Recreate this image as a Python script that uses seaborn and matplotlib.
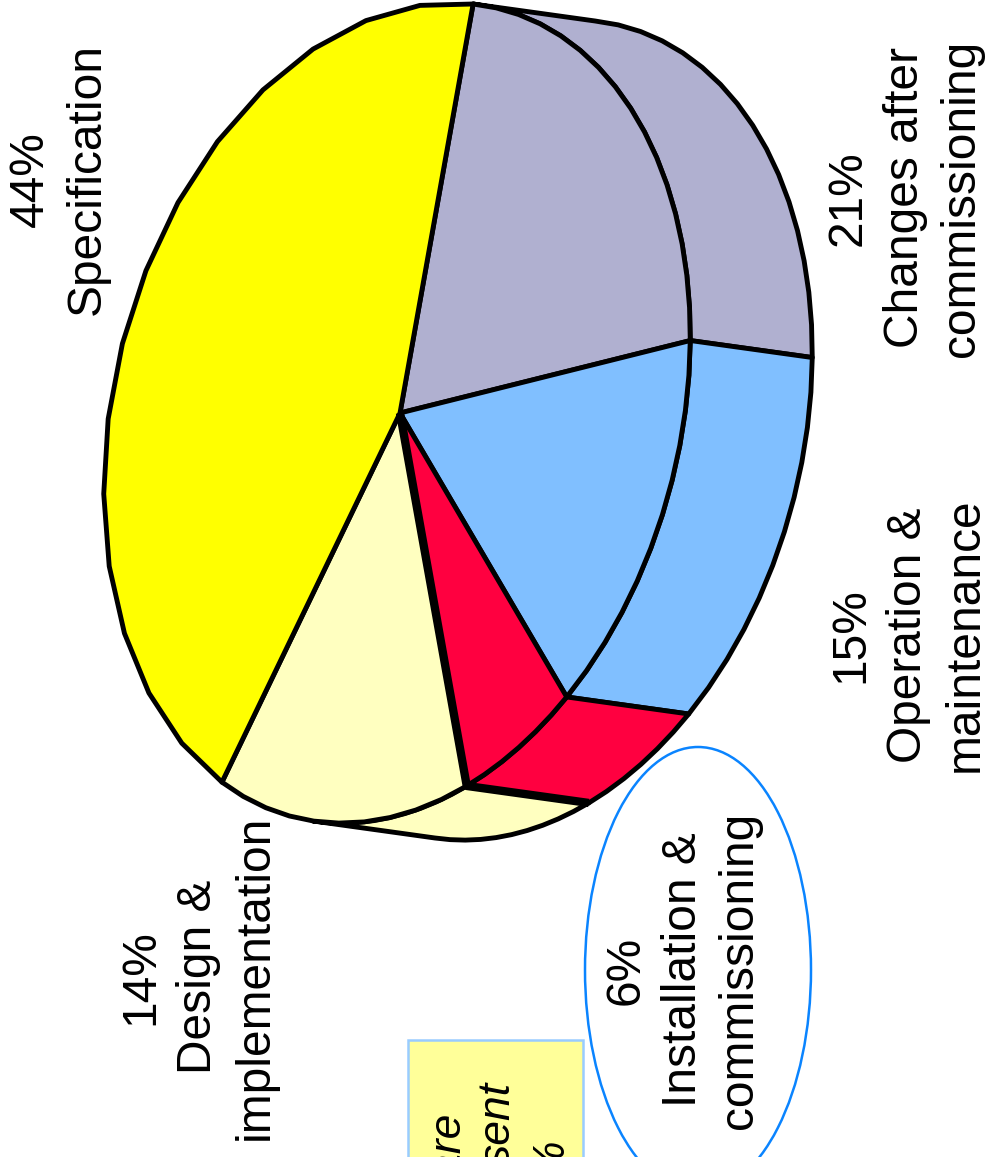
import numpy as np
import matplotlib
matplotlib.use("Agg")
import matplotlib.pyplot as plt
from matplotlib.patches import Ellipse, Rectangle
import seaborn as sns

# Lifecycle phases, clockwise from the top of the disc
phases = ["Changes after\ncommissioning", "Operation &\nmaintenance",
          "Installation &\ncommissioning", "Design &\nimplementation", "Specification"]
shares = [21, 15, 6, 14, 44]
colours = ["#B0B0D0", "#80BFFF", "#FF0040", "#FFFFC0", "#FFFF00"]
segments = [16, 11, 6, 10, 15]
label_centres = [(905, 198), (908, 635), (683, 970), (198, 977), (59, 179)]
note_lines = ["are", "sent", "%"]
note_positions = [(448, 1113), (498, 1082), (550, 1137)]

sns.set_theme(style="white")
plt.rcParams["font.family"] = ["Liberation Sans", "DejaVu Sans"]
palette = sns.color_palette(colours)

fig = plt.figure(figsize=(9.88, 11.57), dpi=100)
ax = fig.add_axes([0, 0, 1, 1])
ax.set_xlim(0, 988)
ax.set_ylim(1157, 0)
ax.axis("off")

# Oblique projection of the disc: rim centre, two axis vectors and the extrusion
hub = np.array([400.0, 413.0])
rim_centre = np.array([397.0, 413.0])
axis_a = np.array([84.0, -408.0])
axis_b = np.array([281.0, 41.6])
depth = np.array([122.0, 17.0])
turn = -1.6
LINE = 3.5


def rim(start, stop, n):
    t = np.radians(np.linspace(start, stop, n + 1) + turn)
    return rim_centre + np.outer(np.cos(t), axis_a) + np.outer(np.sin(t), axis_b)


edges = np.concatenate([[0], np.cumsum(shares)]) * 3.6

# Side wall first; only the part facing the viewer (up to the far tangent) is drawn
for i, colour in enumerate(palette):
    start, stop = edges[i], min(edges[i + 1], 180.0 - turn)
    if start >= stop:
        continue
    arc = rim(start, stop, segments[i])
    wall = np.vstack([arc, (arc + depth)[::-1]])
    ax.fill(wall[:, 0], wall[:, 1], facecolor=colour, edgecolor="black",
            linewidth=LINE, joinstyle="round", zorder=2)

# Top face of each slice
for i, colour in enumerate(palette):
    arc = rim(edges[i], edges[i + 1], segments[i])
    face = np.vstack([hub, arc])
    ax.fill(face[:, 0], face[:, 1], facecolor=colour, edgecolor="black",
            linewidth=LINE, joinstyle="round", zorder=3)

# Heavier boundary between installation and design
corner = rim(edges[3], edges[3], 1)[0]
heavy = np.vstack([hub, corner, corner + depth])
ax.plot(heavy[:, 0], heavy[:, 1], color="black", linewidth=6.0,
        solid_capstyle="butt", solid_joinstyle="round", zorder=4)

for name, share, (x, y) in zip(phases, shares, label_centres):
    ax.text(x, y, f"{share}%\n{name}", rotation=90, ha="center", va="center",
            multialignment="center", fontsize=34.5, color="black",
            linespacing=1.34, zorder=6)

# Highlight ring around the installation label
ax.add_patch(Ellipse((698, 970), 226, 446, facecolor="none",
                     edgecolor="#0A84FF", linewidth=1.8, zorder=5))

# Note box running off the lower edge
ax.add_patch(Rectangle((408, 1040), 175, 140, facecolor="#FFFF99",
                       edgecolor="#99CCFF", linewidth=1.8, zorder=5))
for line, (x, y) in zip(note_lines, note_positions):
    ax.text(x, y, line, rotation=90, ha="center", va="top", style="italic",
            fontsize=32, color="black", zorder=6)

fig.savefig("out.png", dpi=100, facecolor="white")
